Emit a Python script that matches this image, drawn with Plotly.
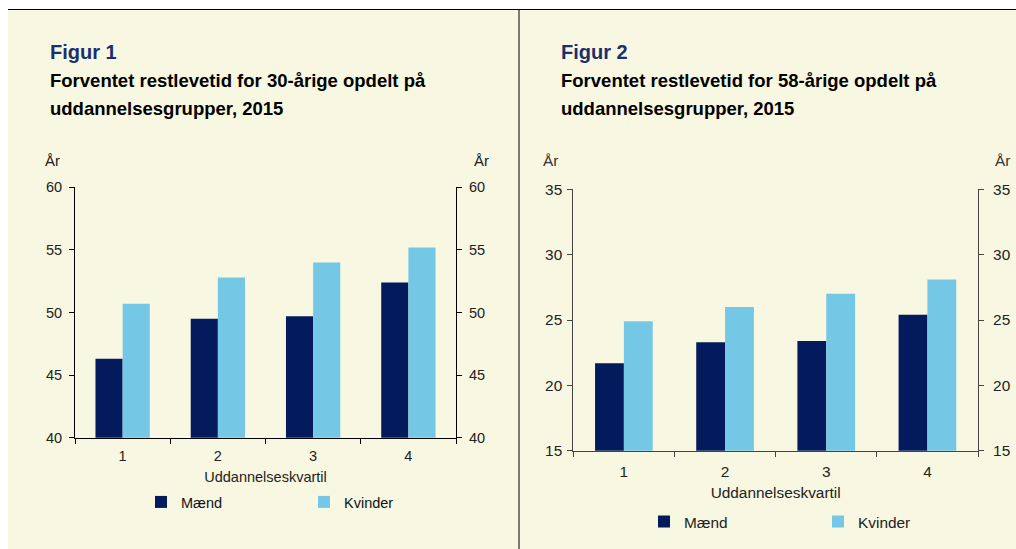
import plotly.graph_objects as go

categories = ["1", "2", "3", "4"]
maend_30 = [46.3, 49.5, 49.7, 52.4]
kvinder_30 = [50.7, 52.8, 54.0, 55.2]
maend_58 = [21.7, 23.3, 23.4, 25.4]
kvinder_58 = [24.9, 26.0, 27.0, 28.1]
y1_ticks = [40, 45, 50, 55, 60]
y2_ticks = [15, 20, 25, 30, 35]

W, H = 1016, 549
NAVY = "#031B5C"
LIGHT = "#74C8E6"
CREAM = "#F8F7E1"
FONT = "Liberation Sans, Arial, sans-serif"

def px(x):
    return x / W

def py(y):
    return 1 - y / H

fig = go.Figure()
fig.add_trace(go.Bar(x=categories, y=maend_30, name="Mænd", marker_color=NAVY,
                     xaxis="x", yaxis="y", legend="legend"))
fig.add_trace(go.Bar(x=categories, y=kvinder_30, name="Kvinder", marker_color=LIGHT,
                     xaxis="x", yaxis="y", legend="legend"))
fig.add_trace(go.Bar(x=categories, y=maend_58, name="Mænd", marker_color=NAVY,
                     xaxis="x2", yaxis="y2", legend="legend2"))
fig.add_trace(go.Bar(x=categories, y=kvinder_58, name="Kvinder", marker_color=LIGHT,
                     xaxis="x2", yaxis="y2", legend="legend2"))
# invisible carriers so the right-hand value axes are drawn
fig.add_trace(go.Scatter(x=categories, y=kvinder_30, mode="none", xaxis="x", yaxis="y3",
                         showlegend=False, hoverinfo="skip"))
fig.add_trace(go.Scatter(x=categories, y=kvinder_58, mode="none", xaxis="x2", yaxis="y4",
                         showlegend=False, hoverinfo="skip"))

def xax(domain, anchor, color, size, standoff, lblstand):
    return dict(domain=domain, anchor=anchor, type="category", range=[-0.5, 3.5],
                showline=True, linecolor=color, linewidth=1, ticks="outside",
                tickson="boundaries", ticklen=5, tickcolor=color, automargin=False,
                ticklabelstandoff=lblstand,
                tickfont=dict(family=FONT, size=size, color="#222"),
                title=dict(text="Uddannelseskvartil", standoff=standoff,
                           font=dict(family=FONT, size=size, color="#222")),
                showgrid=False, zeroline=False, fixedrange=True)

def yax(domain, anchor, rng, ticks, color, size, lblstand, side="left", overlaying=None):
    d = dict(domain=domain, anchor=anchor, range=rng, tickvals=ticks,
             showline=True, linecolor=color, linewidth=1, ticks="outside",
             ticklen=5, tickcolor=color, side=side, automargin=False,
             ticklabelstandoff=lblstand,
             tickfont=dict(family=FONT, size=size, color="#222"),
             showgrid=False, zeroline=False, fixedrange=True)
    if overlaying:
        d["overlaying"] = overlaying
    return d

c1x = [px(75), px(456)]
c1y = [py(437.7), py(187.3)]
c2x = [px(573.3), px(978)]
c2y = [py(450.7), py(189.3)]

fig.update_layout(
    template="none",
    width=W, height=H, margin=dict(l=0, r=0, t=0, b=0, autoexpand=False),
    paper_bgcolor="white", plot_bgcolor="rgba(0,0,0,0)",
    barmode="group", bargap=0.43, bargroupgap=0,
    xaxis=xax(c1x, "y", "#000", 14.5, 8, 5),
    yaxis=yax(c1y, "x", [40, 60], y1_ticks, "#000", 14.5, 4),
    yaxis3=yax(c1y, "x", [40, 60], y1_ticks, "#000", 14.5, 4, side="right", overlaying="y"),
    xaxis2=xax(c2x, "y2", "#444", 15.4, 8, 7),
    yaxis2=yax(c2y, "x2", [15, 35], y2_ticks, "#444", 15.4, 2),
    yaxis4=yax(c2y, "x2", [15, 35], y2_ticks, "#444", 15.4, 6, side="right", overlaying="y2"),
    legend=dict(orientation="h", x=px(141), y=py(502), xanchor="left", yanchor="middle",
                entrywidth=118, bgcolor="rgba(0,0,0,0)",
                font=dict(family=FONT, size=14.5, color="#111")),
    legend2=dict(orientation="h", x=px(644), y=py(522), xanchor="left", yanchor="middle",
                 entrywidth=129, bgcolor="rgba(0,0,0,0)",
                 font=dict(family=FONT, size=15.4, color="#222")),
    shapes=[
        dict(type="rect", xref="paper", yref="paper", x0=px(8), x1=1, y0=0, y1=py(9.5),
             fillcolor=CREAM, line_width=0, layer="below"),
        dict(type="line", xref="paper", yref="paper", x0=px(8), x1=1, y0=py(9.5), y1=py(9.5),
             line=dict(color="#000", width=1)),
        dict(type="line", xref="paper", yref="paper", x0=px(519), x1=px(519), y0=0, y1=py(9.5),
             line=dict(color="#000", width=1)),
    ],
)

ann = []
def text(x, y, s, size, color="#000", bold=False, anchor="left"):
    ann.append(dict(x=px(x), y=py(y), xref="paper", yref="paper", text=f"<b>{s}</b>" if bold else s,
                    showarrow=False, xanchor=anchor, yanchor="middle",
                    font=dict(family=FONT, size=size, color=color)))

text(48, 52, "Figur 1", 20, "#1A2F6E", True)
text(48, 81, "Forventet restlevetid for 30-årige opdelt på", 18.5, "#000", True)
text(48, 108, "uddannelsesgrupper, 2015", 18.5, "#000", True)
text(43, 160, "År", 15, "#222")
text(472, 160, "År", 15, "#222")

text(559, 52, "Figur 2", 20, "#1A2F6E", True)
text(559, 81, "Forventet restlevetid for 58-årige opdelt på", 18.5, "#000", True)
text(559, 108, "uddannelsesgrupper, 2015", 18.5, "#000", True)
text(541, 160, "År", 15.4, "#333")
text(993, 160, "År", 15.4, "#333")

fig.update_layout(annotations=ann)
fig.write_html("out.html", config={"displayModeBar": False},
               post_script="document.body.style.margin='0';document.body.style.overflow='hidden';")
